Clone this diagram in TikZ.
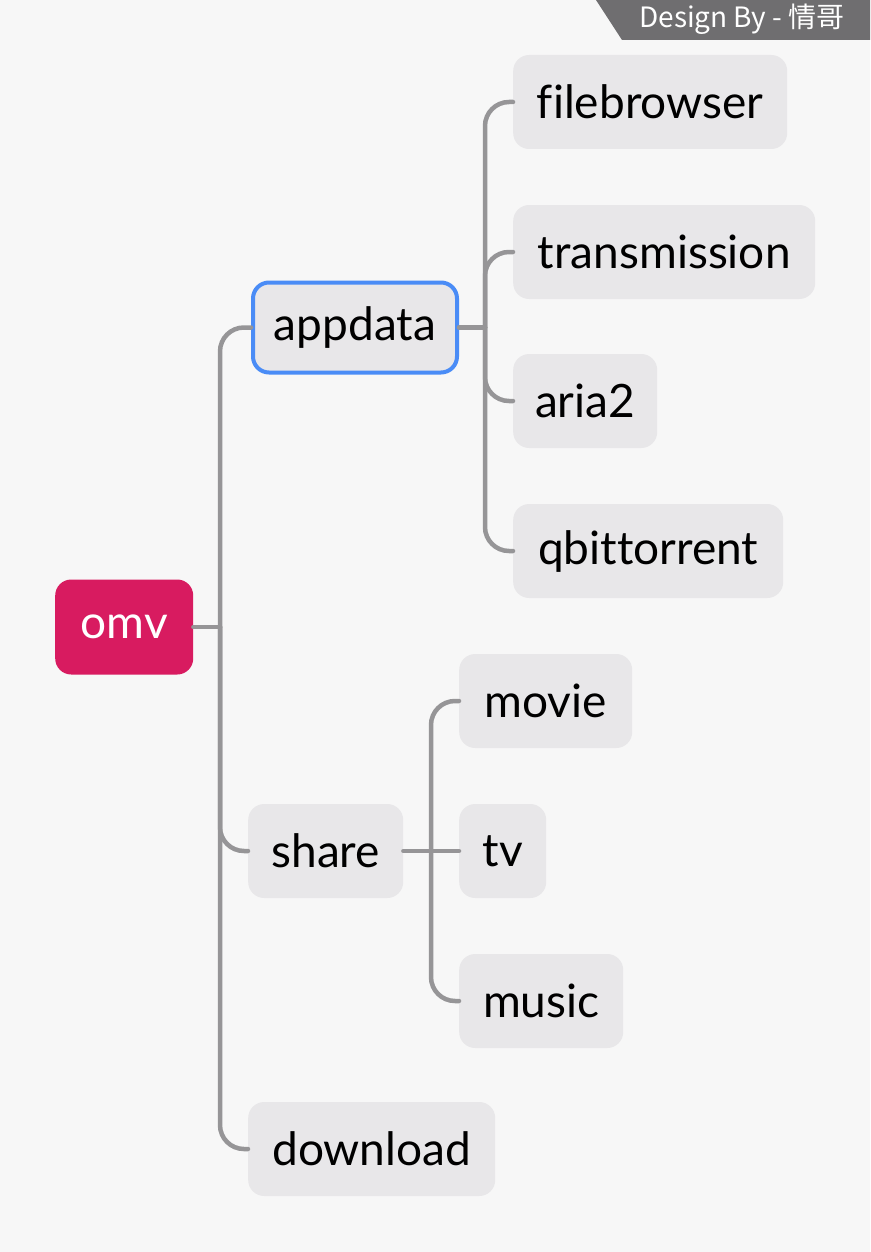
\documentclass[tikz,border=0pt]{standalone}
\usepackage{fontspec}
\setmainfont{Lato}[Ligatures=NoCommon]
\newfontfamily\cjkfont{Noto Sans CJK SC}

\definecolor{paper}{HTML}{F7F7F7}
\definecolor{topicfill}{HTML}{E8E7E9}
\definecolor{linegray}{HTML}{969597}
\definecolor{omvred}{HTML}{D81B60}
\definecolor{selblue}{HTML}{4A8CF6}
\definecolor{bannergray}{HTML}{6F6E70}

\begin{document}
\begin{tikzpicture}[x=1pt, y=-1pt,
  topic/.style={fill=topicfill, rounded corners=16pt, anchor=west, inner sep=0pt,
    minimum height=94pt, font=\fontsize{46}{50}\selectfont, text=black},
  branch/.style={draw=linegray, line width=4.5pt, line cap=round, rounded corners=24pt}]

\useasboundingbox (0,0) rectangle (870,1252);
\fill[paper] (0,0) rectangle (870,1252);

% Banner - top right
\fill[bannergray] (596,0) -- (870,0) -- (870,40) -- (622,40) -- cycle;
\node[text=white, font=\cjkfont\fontsize{28}{30}\selectfont] (banner) at (742,19) {Design By - 情哥};

% Root
\node[topic, fill=omvred, text=white, minimum width=138pt, minimum height=95pt] (omv) at (55,627) {omv};

% First level
\node[topic, draw=selblue, line width=4pt, minimum width=204pt, minimum height=90pt] (appdata) at (251,327.5) {appdata};
\node[topic, minimum width=155pt] (share) at (248,851) {share};
\node[topic, minimum width=247pt] (download) at (248,1149) {download};

% Under appdata
\node[topic, minimum width=274pt] (filebrowser) at (513,102) {filebrowser};
\node[topic, minimum width=302pt] (transmission) at (513,252) {transmission};
\node[topic, minimum width=144pt] (aria2) at (513,401) {aria2};
\node[topic, minimum width=270pt] (qbittorrent) at (513,551) {qbittorrent};

% Under share
\node[topic, minimum width=173pt] (movie) at (459,701) {movie};
\node[topic, minimum width=87pt] (tv) at (459,851) {tv};
\node[topic, minimum width=164pt] (music) at (459,1001) {music};

% Junction points
\coordinate (jomv) at (220,627);
\coordinate (japp) at (485,327.5);
\coordinate (jshare) at (431,851);

% Connectors
\draw[branch] (omv.east) -- (jomv);
\draw[branch] (jomv) |- (appdata.west);
\draw[branch] (jomv) |- (share.west);
\draw[branch] (jomv) |- (download.west);

\draw[branch] (appdata.east) -- (japp);
\draw[branch] (japp) |- (filebrowser.west);
\draw[branch] (japp) |- (transmission.west);
\draw[branch] (japp) |- (aria2.west);
\draw[branch] (japp) |- (qbittorrent.west);

\draw[branch] (share.east) -- (jshare);
\draw[branch] (jshare) |- (movie.west);
\draw[branch] (jshare) -- (tv.west);
\draw[branch] (jshare) |- (music.west);

\end{tikzpicture}
\end{document}
